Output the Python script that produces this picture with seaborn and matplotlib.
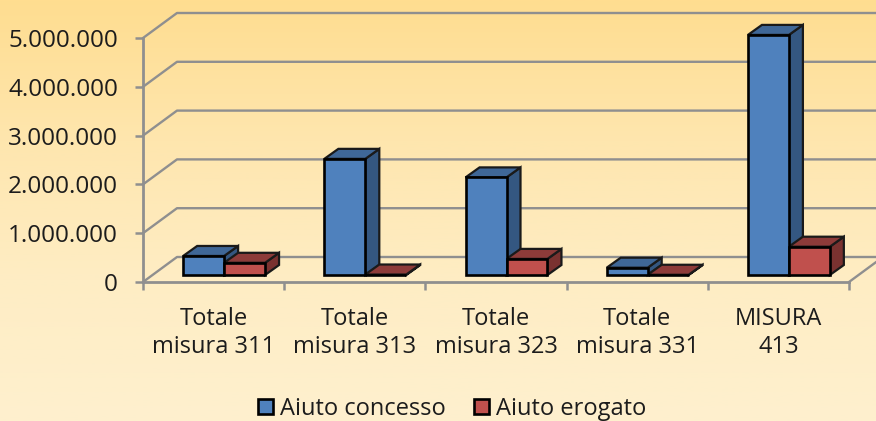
import numpy as np
import pandas as pd
import matplotlib
matplotlib.use("Agg")
import matplotlib.pyplot as plt
import matplotlib.ticker as ticker
from matplotlib.colors import LinearSegmentedColormap
from matplotlib.patches import Polygon
from matplotlib.transforms import IdentityTransform, offset_copy
import seaborn as sns

categories = ["Totale\nmisura 311", "Totale\nmisura 313", "Totale\nmisura 323",
              "Totale\nmisura 331", "MISURA\n413"]
concesso = [390000, 2380000, 2000000, 150000, 4920000]
erogato = [250000, 10000, 330000, 5000, 580000]
series_names = ["Aiuto concesso", "Aiuto erogato"]
y_ticks = [0, 1000000, 2000000, 3000000, 4000000, 5000000]

sns.set_style("white")
plt.rcParams['font.family'] = ['Open Sans', 'DejaVu Sans']

df = pd.DataFrame({
    'categoria': categories * 2,
    'aiuto': [series_names[0]] * 5 + [series_names[1]] * 5,
    'valore': concesso + erogato,
})

W, H = 876, 421
GREY = "#8f8f8f"
TEXT = "#1c1c1c"
FONT = 17

fig = plt.figure(figsize=(W / 100, H / 100), dpi=100)

# background gradient
bg = fig.add_axes([0, 0, 1, 1], zorder=0)
cmap = LinearSegmentedColormap.from_list("bg", ["#ffdd90", "#fee6ae", "#feedc4", "#fef0ce"])
bg.imshow(np.linspace(0, 1, 256).reshape(-1, 1), aspect='auto', cmap=cmap)
bg.axis('off')

ax = fig.add_axes([143 / W, (H - 282) / H, 706 / W, 244 / H], zorder=1)
ax.patch.set_visible(False)

sns.barplot(
    data=df, x='categoria', y='valore', hue='aiuto',
    palette=["#4f81bd", "#c0504d"], saturation=1, width=0.58, gap=0,
    edgecolor='black', linewidth=1.9, legend=False, ax=ax
)
ax.set_xlim(-0.5, 4.5)
ax.set_ylim(0, 5000000)
ax.set_xlabel("")
ax.set_ylabel("")
ax.set_yticks(y_ticks)
ax.yaxis.set_major_formatter(ticker.FuncFormatter(lambda v, p: f"{v:,.0f}".replace(",", ".")))
ax.set_xticks(range(5))
ax.set_xticklabels(categories)
ax.set_xticks(np.arange(-0.5, 5), minor=True)

# axes
for s in ['top', 'right']:
    ax.spines[s].set_visible(False)
for s in ['left', 'bottom']:
    ax.spines[s].set_color(GREY)
    ax.spines[s].set_linewidth(2)
ax.tick_params(axis='y', length=6, width=1.8, color=GREY, labelsize=17.5, labelcolor=TEXT, pad=12, left=True)
ax.tick_params(axis='x', which='major', length=0, labelsize=FONT, labelcolor=TEXT, pad=18)
ax.tick_params(axis='x', which='minor', length=6, width=1.8, color=GREY, bottom=True)
for label in ax.get_yticklabels():
    label.set_va('center_baseline')

fig.canvas.draw()


def px(x, y):
    return ax.transData.transform((x, y))


# back wall gridlines, shifted from the front axis
DX_WALL, DY_WALL = 34, 25
for v in y_ticks:
    x0, y0 = px(-0.5, v)
    ax.add_line(plt.Line2D([x0, x0 + DX_WALL, W + 5], [y0, y0 + DY_WALL, y0 + DY_WALL],
                           color=GREY, lw=1.7, transform=IdentityTransform(), zorder=1, clip_on=False))
x1, y1 = px(4.5, 0)
ax.add_line(plt.Line2D([x1, x1 + DX_WALL], [y1, y1 + DY_WALL], color=GREY, lw=1.7,
                       transform=IdentityTransform(), zorder=1, clip_on=False))

# 3D faces built from the seaborn bars
SHIFT_X, SHIFT_Y = 10.5, 7
DX, DY = 14, 10
shades = [("#3f6797", "#345781"), ("#8d3b39", "#7a3230")]
for k, cont in enumerate(ax.containers):
    top_c, side_c = shades[k]
    for patch in cont.patches:
        l, b = px(patch.get_x(), 0)
        r, t = px(patch.get_x() + patch.get_width(), patch.get_height())
        l += SHIFT_X
        r += SHIFT_X
        b += SHIFT_Y
        t += SHIFT_Y
        side = Polygon([(r, b), (r + DX, b + DY), (r + DX, t + DY), (r, t)], closed=True,
                       fc=side_c, ec='#1a1a1a', lw=1.6, transform=IdentityTransform(),
                       zorder=2 + k, clip_on=False)
        top = Polygon([(l, t), (l + DX, t + DY), (r + DX, t + DY), (r, t)], closed=True,
                      fc=top_c, ec='#1a1a1a', lw=1.6, transform=IdentityTransform(),
                      zorder=2 + k, clip_on=False)
        ax.add_patch(side)
        ax.add_patch(top)
        patch.set_transform(offset_copy(ax.transData, fig, x=SHIFT_X, y=SHIFT_Y, units='dots'))
        patch.set_zorder(4)
        patch.set_clip_on(False)

# legend
handles = [c.patches[0] for c in ax.containers]
leg = ax.legend(
    handles, series_names, ncol=2, loc='center', frameon=False,
    bbox_to_anchor=(452 / W, 12 / H), bbox_transform=fig.transFigure,
    fontsize=FONT, labelcolor=TEXT, handlelength=0.62, handleheight=0.62,
    handletextpad=0.3, columnspacing=1.22, borderpad=0, borderaxespad=0
)

fig.savefig("out.png", dpi=100)
